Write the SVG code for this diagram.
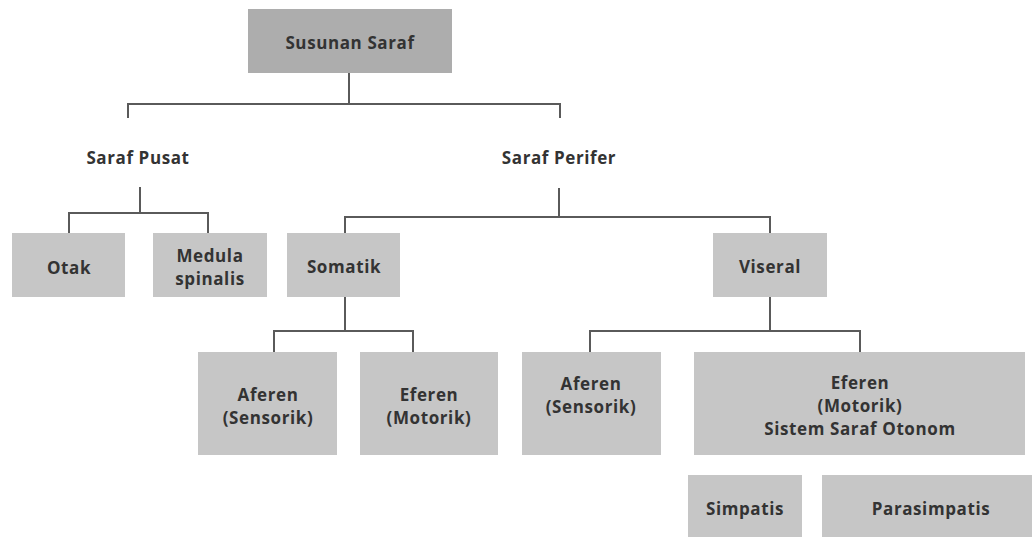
<svg xmlns="http://www.w3.org/2000/svg" width="1032" height="537" viewBox="0 0 1032 537">
<style>
.box{fill:#c6c6c6}
.root{fill:#adadad}
text{font-family:"Open Sans","Noto Sans",sans-serif;font-weight:bold;font-size:17px;letter-spacing:0.6px;fill:#333;text-anchor:middle;dominant-baseline:central}
.ln{fill:none;stroke:#5a5a5a;stroke-width:2}
</style>
<rect width="1032" height="537" fill="#fff"/>
<g id="connectors">
<path class="ln" d="M349 73V104M128 118V104H560V118"/>
<path class="ln" d="M140 187V213M69 233V213H208V233"/>
<path class="ln" d="M559 188V217M345 233V217H770V233"/>
<path class="ln" d="M345 297V331M274 352V331H413V352"/>
<path class="ln" d="M770 297V331M590 352V331H860V352"/>
</g>
<g id="susunan-saraf"><rect class="root" x="248" y="9" width="204" height="64"/><text x="350" y="42">Susunan Saraf</text></g>
<g id="saraf-pusat"><text x="138" y="157">Saraf Pusat</text></g>
<g id="saraf-perifer"><text x="559" y="157">Saraf Perifer</text></g>
<g id="otak"><rect class="box" x="12" y="233" width="113" height="64"/><text x="69" y="267">Otak</text></g>
<g id="medula"><rect class="box" x="153" y="233" width="114" height="64"/><text x="210" y="255">Medula</text><text x="210" y="278">spinalis</text></g>
<g id="somatik"><rect class="box" x="287" y="233" width="113" height="64"/><text x="344" y="266">Somatik</text></g>
<g id="viseral"><rect class="box" x="713" y="233" width="114" height="64"/><text x="770" y="266">Viseral</text></g>
<g id="aferen-somatik"><rect class="box" x="198" y="352" width="139" height="103"/><text x="268" y="394">Aferen</text><text x="268" y="417">(Sensorik)</text></g>
<g id="eferen-somatik"><rect class="box" x="360" y="352" width="138" height="103"/><text x="429" y="394">Eferen</text><text x="429" y="417">(Motorik)</text></g>
<g id="aferen-viseral"><rect class="box" x="522" y="352" width="139" height="103"/><text x="591" y="383">Aferen</text><text x="591" y="406">(Sensorik)</text></g>
<g id="eferen-viseral"><rect class="box" x="694" y="352" width="331" height="103"/><text x="860" y="382">Eferen</text><text x="860" y="405">(Motorik)</text><text x="860" y="428">Sistem Saraf Otonom</text></g>
<g id="simpatis"><rect class="box" x="688" y="475" width="114" height="70"/><text x="745" y="508">Simpatis</text></g>
<g id="parasimpatis"><rect class="box" x="822" y="475" width="220" height="70"/><text x="931" y="508">Parasimpatis</text></g>
</svg>
